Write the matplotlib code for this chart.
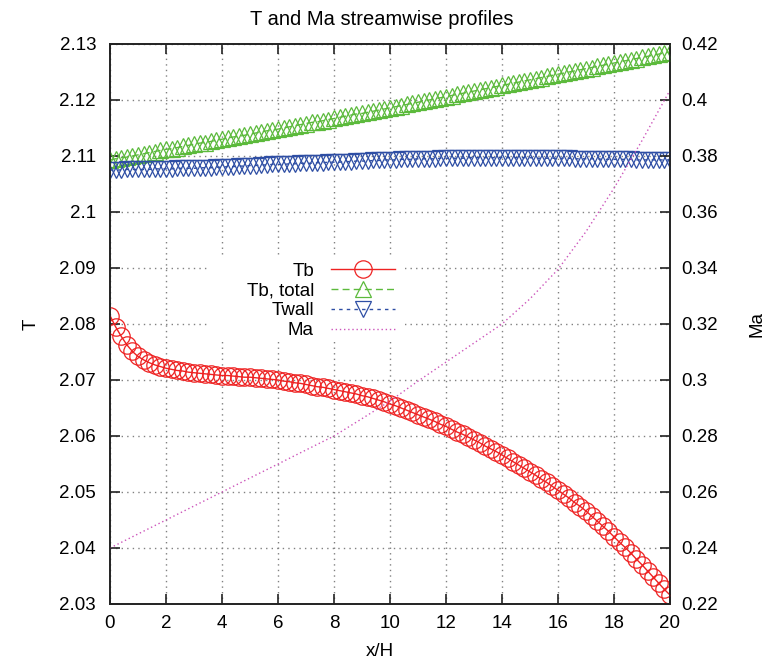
import matplotlib
matplotlib.use("Agg")
import matplotlib.pyplot as plt
from matplotlib.patches import Rectangle
from matplotlib.ticker import FuncFormatter
import numpy as np

plt.rcParams["font.family"] = ["Liberation Sans", "DejaVu Sans"]
plt.rcParams["font.size"] = 13.5

# streamwise stations x/H
x = np.linspace(0, 20, 101)

tb = [2.0815, 2.0795, 2.0778, 2.0763, 2.0751, 2.0742, 2.0736, 2.0731, 2.0727, 2.0724,
      2.0721, 2.0719, 2.0717, 2.0716, 2.0714, 2.0713, 2.0712, 2.0711, 2.0710, 2.0709,
      2.0708, 2.0708, 2.0707, 2.0706, 2.0705, 2.0705, 2.0704, 2.0703, 2.0702, 2.0701,
      2.0700, 2.0698, 2.0697, 2.0695, 2.0694, 2.0692, 2.0690, 2.0688, 2.0687, 2.0685,
      2.0683, 2.0681, 2.0679, 2.0677, 2.0675, 2.0672, 2.0670, 2.0667, 2.0664, 2.0661,
      2.0657, 2.0654, 2.0650, 2.0646, 2.0642, 2.0638, 2.0634, 2.0630, 2.0626, 2.0621,
      2.0617, 2.0612, 2.0607, 2.0603, 2.0598, 2.0593, 2.0588, 2.0582, 2.0577, 2.0572,
      2.0566, 2.0560, 2.0554, 2.0548, 2.0542, 2.0536, 2.0530, 2.0523, 2.0517, 2.0510,
      2.0503, 2.0496, 2.0489, 2.0481, 2.0474, 2.0466, 2.0457, 2.0448, 2.0439, 2.0430,
      2.0420, 2.0410, 2.0401, 2.0391, 2.0380, 2.0370, 2.0359, 2.0348, 2.0337, 2.0326,
      2.0316]

tb_total = [2.1093, 2.1095, 2.1097, 2.1098, 2.1100, 2.1102, 2.1104, 2.1106, 2.1108, 2.1110,
            2.1112, 2.1113, 2.1115, 2.1117, 2.1119, 2.1121, 2.1123, 2.1124, 2.1126, 2.1128,
            2.1130, 2.1132, 2.1134, 2.1135, 2.1137, 2.1139, 2.1141, 2.1143, 2.1145, 2.1146,
            2.1148, 2.1150, 2.1152, 2.1154, 2.1156, 2.1158, 2.1160, 2.1161, 2.1163, 2.1165,
            2.1167, 2.1169, 2.1171, 2.1173, 2.1175, 2.1176, 2.1178, 2.1180, 2.1182, 2.1184,
            2.1186, 2.1188, 2.1190, 2.1192, 2.1194, 2.1196, 2.1198, 2.1200, 2.1202, 2.1204,
            2.1206, 2.1208, 2.1210, 2.1212, 2.1214, 2.1216, 2.1218, 2.1220, 2.1222, 2.1224,
            2.1226, 2.1228, 2.1230, 2.1232, 2.1234, 2.1236, 2.1238, 2.1240, 2.1242, 2.1244,
            2.1246, 2.1248, 2.1250, 2.1252, 2.1254, 2.1256, 2.1258, 2.1260, 2.1262, 2.1264,
            2.1266, 2.1268, 2.1270, 2.1272, 2.1274, 2.1276, 2.1278, 2.1280, 2.1282, 2.1284,
            2.1286]

twall = [2.1075, 2.1075, 2.1075, 2.1076, 2.1076, 2.1076, 2.1076, 2.1076, 2.1077, 2.1077,
         2.1077, 2.1077, 2.1078, 2.1078, 2.1078, 2.1078, 2.1079, 2.1079, 2.1079, 2.1080,
         2.1080, 2.1081, 2.1081, 2.1082, 2.1082, 2.1083, 2.1083, 2.1084, 2.1084, 2.1085,
         2.1085, 2.1085, 2.1086, 2.1086, 2.1087, 2.1087, 2.1087, 2.1088, 2.1088, 2.1089,
         2.1089, 2.1089, 2.1090, 2.1090, 2.1091, 2.1091, 2.1091, 2.1092, 2.1092, 2.1093,
         2.1093, 2.1093, 2.1094, 2.1094, 2.1094, 2.1095, 2.1095, 2.1095, 2.1095, 2.1096,
         2.1096, 2.1096, 2.1096, 2.1096, 2.1097, 2.1097, 2.1097, 2.1097, 2.1097, 2.1097,
         2.1097, 2.1097, 2.1097, 2.1097, 2.1097, 2.1097, 2.1096, 2.1096, 2.1096, 2.1096,
         2.1096, 2.1096, 2.1096, 2.1095, 2.1095, 2.1095, 2.1095, 2.1095, 2.1094, 2.1094,
         2.1094, 2.1094, 2.1094, 2.1094, 2.1093, 2.1093, 2.1093, 2.1093, 2.1093, 2.1093,
         2.1093]

x_ma = np.arange(0, 21)
ma = [0.2400, 0.2450, 0.2500, 0.2550, 0.2600, 0.2650, 0.2700, 0.2750, 0.2800, 0.2862,
      0.2925, 0.2996, 0.3064, 0.3132, 0.3200, 0.3290, 0.3395, 0.3530, 0.3685, 0.3855,
      0.4035]

T_ticks = [2.03, 2.04, 2.05, 2.06, 2.07, 2.08, 2.09, 2.10, 2.11, 2.12, 2.13]
Ma_ticks = [0.22, 0.24, 0.26, 0.28, 0.30, 0.32, 0.34, 0.36, 0.38, 0.40, 0.42]
x_ticks = [0, 2, 4, 6, 8, 10, 12, 14, 16, 18, 20]

fig = plt.figure(figsize=(7.65, 6.62), dpi=100)
ax = fig.add_axes([110/765, 58/662, 560/765, 560/662])
ax2 = ax.twinx()

gfmt = FuncFormatter(lambda v, p: f"{round(v, 4):g}")

l1, = ax.plot(x, tb, color="#ee2222", lw=1.0, marker="o", ms=12.5, mfc="none",
              mew=0.9, label="Tb", zorder=3)
l2, = ax.plot(x, tb_total, color="#5cba3c", lw=1.0, ls=(0, (5, 3)), marker="^", ms=11.5,
              mfc="none", mew=0.9, label="Tb, total", zorder=3)
l3, = ax.plot(x, twall, color="#2e4ea4", lw=1.0, ls=(0, (2.5, 3)), marker="v", ms=11.5,
              mfc="none", mew=0.9, label="Twall", zorder=3)
l4, = ax2.plot(x_ma, ma, color="#cc55bb", lw=1.0, ls=(0, (1, 2)), label="Ma")

ax.set_xlim(0, 20)
ax.set_ylim(2.03, 2.13)
ax2.set_ylim(0.22, 0.42)
ax.set_xticks(x_ticks)
ax.set_yticks(T_ticks)
ax2.set_yticks(Ma_ticks)
ax.yaxis.set_major_formatter(gfmt)
ax2.yaxis.set_major_formatter(gfmt)

ax.set_axisbelow(True)
ax.grid(True, color="#808080", ls=(0, (1, 3)), lw=1.0)
ax.tick_params(direction="in", length=7, width=1.2, top=True, right=False, color="#222222")
ax.tick_params(axis="y", pad=10)
ax.tick_params(axis="x", pad=8)
ax2.tick_params(direction="in", length=7, width=1.2, pad=8, color="#222222")
for a in (ax, ax2):
    for s in a.spines.values():
        s.set_linewidth(1.2)
        s.set_color("#222222")

ax.set_title("T and Ma streamwise profiles", pad=14, fontsize=14.5, x=0.486)
ax.set_xlabel("x/H")
ax.set_ylabel("T", rotation=90)
ax2.set_ylabel("Ma", rotation=90)
ax.xaxis.set_label_coords(0.482, -0.07)
ax.yaxis.set_label_coords(-0.125, 0.5)
ax2.yaxis.set_label_coords(1.14, 0.5)

# opaque key area, covering the grid behind the legend
ax.add_patch(Rectangle(((210-110)/560, (604-342)/560), 195/560, 85/560,
                       transform=ax.transAxes, facecolor="white", edgecolor="none", zorder=1))

leg = ax2.legend(handles=[l1, l2, l3, l4], loc="upper right", markerfirst=False,
                 frameon=False, borderpad=0, handlelength=3.4, handletextpad=0.9,
                 labelspacing=0.15, bbox_to_anchor=((404-110)/560, (604-253)/560),
                 fontsize=13.5)

fig.savefig("out.png", dpi=100)
